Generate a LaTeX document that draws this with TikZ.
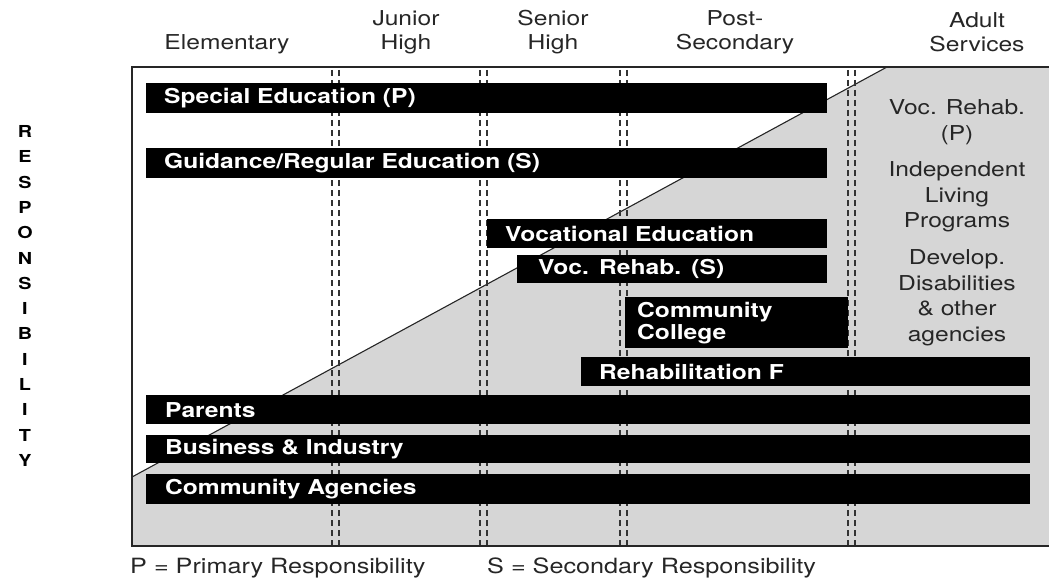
\documentclass[tikz,border=0pt]{standalone}
\usepackage{fontspec}
\setmainfont[FakeStretch=1.2]{TeX Gyre Heros}
\begin{document}
\begin{tikzpicture}[x=1pt,y=-1pt,
  hdr/.style={font=\fontsize{20.5}{24}\selectfont, text=black!85, align=center, inner sep=0pt},
  bar/.style={fill=black, text=white, font=\bfseries\fontsize{20.5}{23}\selectfont, anchor=north west, inner xsep=18pt, inner ysep=0pt, align=left},
  side/.style={font=\fontsize{20.5}{25.5}\selectfont, text=black!85, align=center, inner sep=0pt},
  sep/.style={draw=black!80, line width=1.2pt, dash pattern=on 6pt off 4pt},
  leg/.style={font=\fontsize{21}{24}\selectfont, text=black!85, anchor=west, inner sep=0pt}]
\useasboundingbox (0,0) rectangle (1049,583);
% grey region
\fill[black!16] (132,477) -- (887,67) -- (1049,67) -- (1049,546) -- (132,546) -- cycle;
\draw[black!85, line width=1.1pt] (132,477) -- (887,67);
\draw[black!85, line width=1.4pt] (1049,67) -- (132,67) -- (132,546) -- (1049,546);
% dashed separators
\foreach \x in {332,339,480,487,620,627,848,855}
  \draw[sep] (\x,70) -- (\x,545);
% headers
\node[hdr] (el) at (227,44) {Elementary};
\node[hdr] (jh) at (406,32) {Junior\\High};
\node[hdr] (sh) at (553,32) {Senior\\High};
\node[hdr] (ps) at (735,32) {Post-\\Secondary};
\node[hdr] (as) at (977,32) {Adult\\Services};
% responsibility
\node[font=\bfseries\fontsize{16.5}{25.3}\selectfont, align=center, inner sep=0pt] (resp) at (25,296)
  {R\\E\\S\\P\\O\\N\\S\\I\\B\\I\\L\\I\\T\\Y};
% bars
\node[bar, text width=645pt, minimum height=30pt] (spe) at (146,83) {Special Education (P)};
\node[bar, text width=645pt, minimum height=30pt] (gre) at (146,148) {Guidance/Regular Education (S)};
\node[bar, text width=304pt, minimum height=29pt] (voc) at (487,219) {Vocational Education};
\node[bar, text width=268pt, minimum height=28pt, inner xsep=21pt] (vrs) at (517,255) {Voc. Rehab. (S)};
\node[bar, text width=199pt, minimum height=51pt, inner xsep=12pt, font=\bfseries\fontsize{20.5}{22}\selectfont] (cc) at (625,297) {Community\\College};
\node[bar, text width=413pt, minimum height=29pt] (reh) at (581,357) {Rehabilitation F};
\node[bar, text width=846pt, minimum height=29pt, inner xsep=19pt] (par) at (146,395) {Parents};
\node[bar, text width=846pt, minimum height=28pt, inner xsep=19pt] (bus) at (146,435) {Business \& Industry};
\node[bar, text width=846pt, minimum height=30pt, inner xsep=19pt] (com) at (146,474) {Community Agencies};
% side column
\node[side] (s1) at (957,122) {Voc. Rehab.\\(P)};
\node[side] (s2) at (957,197) {Independent\\Living\\Programs};
\node[side] (s3) at (957,298) {Develop.\\Disabilities\\\& other\\agencies};
% legend
\node[leg] (lp) at (130,568) {P = Primary Responsibility};
\node[leg] (ls) at (487,568) {S = Secondary Responsibility};
\end{tikzpicture}
\end{document}
